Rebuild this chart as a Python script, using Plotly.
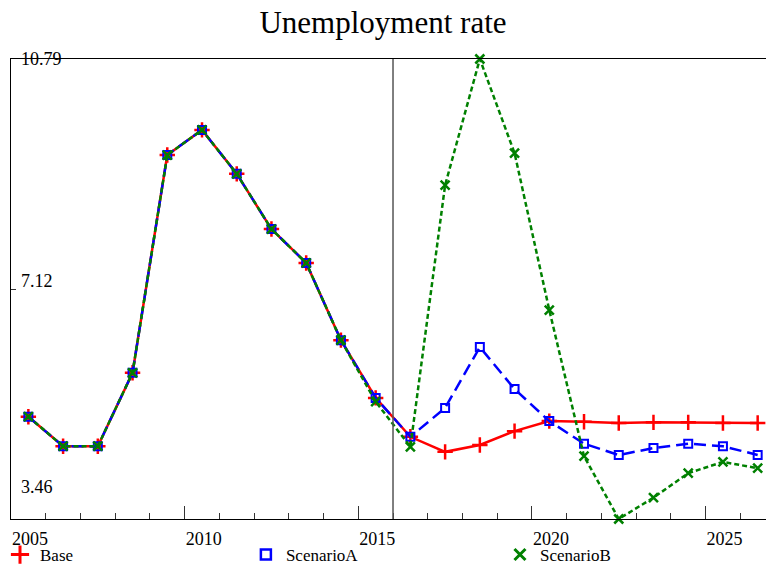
import plotly.graph_objects as go

# ---- data ----
years = [2005.5 + i for i in range(22)]  # annual values plotted mid-year
base = [5.09, 4.62, 4.62, 5.79, 9.26, 9.66, 8.96, 8.08, 7.54, 6.31, 5.39,
        4.77, 4.53, 4.64, 4.86, 5.02, 5.01, 4.99, 5.00, 5.00, 4.99, 4.99]
scenario_a = [5.09, 4.62, 4.62, 5.79, 9.26, 9.66, 8.96, 8.08, 7.54, 6.31, 5.39,
              4.77, 5.23, 6.20, 5.53, 5.02, 4.66, 4.48, 4.59, 4.66, 4.62, 4.48]
scenario_b = [5.09, 4.62, 4.62, 5.79, 9.26, 9.66, 8.96, 8.08, 7.54, 6.31, 5.33,
              4.61, 8.78, 10.79, 9.29, 6.79, 4.46, 3.46, 3.80, 4.19, 4.37, 4.27]
series_names = ["Base", "ScenarioA", "ScenarioB"]
y_ticks = [3.46, 7.125, 10.79]
y_tick_labels = ["3.46", "7.12", "10.79"]
x_ticks = [2005, 2010, 2015, 2020, 2025]
forecast_start = 2016.0

FONT = "Liberation Serif"
fig = go.Figure()

styles = [
    dict(color="#ff0000", dash="solid", symbol="cross-thin", size=11, lw=2.5, mlw=2.5),
    dict(color="#0000ff", dash="12px,6px", symbol="square-open", size=8, lw=2.5, mlw=2),
    dict(color="#008000", dash="5px,3px", symbol="x-thin", size=9, lw=2.5, mlw=2.5),
]
legend_ids = ["legend", "legend2", "legend3"]
legend_x = [-0.0196, 0.321, 0.6527]

for name, vals, st in zip(series_names, [base, scenario_a, scenario_b], styles):
    fig.add_trace(go.Scatter(
        x=years, y=vals, mode="lines+markers", name=name, showlegend=False,
        line=dict(color=st["color"], width=st["lw"], dash=st["dash"]),
        marker=dict(symbol=st["symbol"], size=st["size"], color=st["color"],
                    line=dict(color=st["color"], width=st["mlw"])),
        cliponaxis=False,
    ))
# legend entries (marker only), one legend box per series
for name, st, lid in zip(series_names, styles, legend_ids):
    fig.add_trace(go.Scatter(
        x=[None], y=[None], mode="markers", name=name, showlegend=True, legend=lid,
        marker=dict(symbol=st["symbol"], size=st["size"] + 2, color=st["color"],
                    line=dict(color=st["color"], width=st["mlw"] + 0.5)),
    ))

fig.add_vline(x=forecast_start, line=dict(color="#555555", width=1.5))

for v, lab in zip(y_ticks, y_tick_labels):
    fig.add_annotation(x=0, xref="paper", y=v, yref="y", text=lab,
                       showarrow=False, xanchor="left", xshift=8,
                       yshift={3.46: 32, 7.125: 8, 10.79: 0}[v],
                       font=dict(family=FONT, size=18, color="black"))

legend_common = dict(orientation="h", xref="container", yref="container", y=-0.012,
                     xanchor="left", yanchor="bottom", itemwidth=30,
                     font=dict(family=FONT, size=17, color="black"),
                     bgcolor="rgba(0,0,0,0)")

fig.update_layout(
    width=766, height=573,
    margin=dict(l=11, r=0, t=59, b=54, autoexpand=False),
    paper_bgcolor="white", plot_bgcolor="white",
    title=dict(text="Unemployment rate", x=0.5, xanchor="center", y=0.962, yanchor="middle",
               font=dict(family=FONT, size=31, color="black")),
    font=dict(family=FONT, size=18, color="black"),
    showlegend=True,
    legend=dict(x=legend_x[0], **legend_common),
    legend2=dict(x=legend_x[1], **legend_common),
    legend3=dict(x=legend_x[2], **legend_common),
    xaxis=dict(range=[2005, 2026.74], showgrid=False, zeroline=False,
               showline=True, mirror=True, linecolor="black", linewidth=1,
               tickvals=x_ticks, ticks="inside", ticklen=13, tickcolor="#333333",
               ticklabelposition="outside right", ticklabelstandoff=3,
               tickfont=dict(family=FONT, size=18, color="black"),
               minor=dict(dtick=1, ticks="inside", ticklen=6, tickcolor="#333333", showgrid=False)),
    yaxis=dict(range=[3.46, 10.79], showgrid=False, zeroline=False,
               showline=True, linecolor="black", linewidth=1,
               tickvals=y_ticks, ticks="inside", ticklen=5, tickcolor="#333333",
               showticklabels=False),
)

fig.write_html("out.html")
